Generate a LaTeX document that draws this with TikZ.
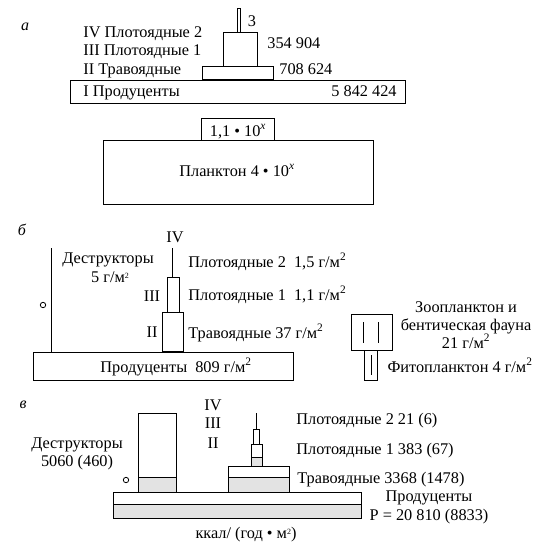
\documentclass[tikz,border=0pt]{standalone}
\usepackage{fontspec}
\setmainfont{Liberation Serif}
\newcommand{\sq}{\textsuperscript{2}}
\newcommand{\smsq}{\raisebox{0.5ex}{\fontsize{8}{8}\selectfont 2}}
\begin{document}
\begin{tikzpicture}[x=1pt,y=-1pt,line width=0.8pt,
  txt/.style={inner sep=0pt,text height=10pt,text depth=0pt,font=\fontsize{16.3}{18}\selectfont},
  lbl/.style={inner sep=0pt,font=\fontsize{16}{18}\selectfont\itshape},
  shade/.style={fill=gray!22},
  heavy/.style={line width=1.6pt}]
\useasboundingbox (0,0) rectangle (553,544);
% ---------- a ----------
\node[lbl] (la) at (25,27) {а};
\draw (237,8) rectangle (240,32);
\draw (223,32) rectangle (257,66);
\draw (202,66) rectangle (273,80);
\draw[heavy] (202,80) -- (273,80);
\draw (70,80) rectangle (405,103);
\node[txt,anchor=west] (a4) at (83,32) {IV Плотоядные 2};
\node[txt,anchor=west] (a3) at (83,50) {III Плотоядные 1};
\node[txt,anchor=west] (a2) at (83,69) {II Травоядные};
\node[txt,anchor=west] (a1) at (83,91) {I Продуценты};
\node[txt] (v4) at (252,21) {3};
\node[txt,anchor=west] (v3) at (267,43) {354 904};
\node[txt,anchor=west] (v2) at (279,69) {708 624};
\node[txt,anchor=east] (v1) at (397,91) {5 842 424};
\draw (201,118) rectangle (274,140);
\node[txt] (zp) at (238,131) {1,1 • 10\textsuperscript{\itshape x}};
\draw (103,140) rectangle (373,204);
\node[txt] (pl) at (237,171) {Планктон 4 • 10\textsuperscript{\itshape x}};
% ---------- b ----------
\node[lbl] (lb) at (22,230) {б};
\node[txt] (b4) at (175,237) {IV};
\draw (51,248) -- (51,352);
\draw (43,305) circle (2.7);
\node[txt] (bd1) at (108,258) {Деструкторы};
\node[txt] (bd2) at (110,277) {5 г/м\smsq};
\draw (172,248) -- (172,277);
\draw (167,277) rectangle (179,312);
\draw (162,312) rectangle (183,352);
\draw[heavy] (162,352) -- (183,352);
\node[txt] (b3) at (152,296) {III};
\node[txt] (b2) at (152,332) {II};
\draw (33,352) rectangle (293,380);
\node[txt] (bp) at (176,367) {Продуценты\ \ 809 г/м\sq};
\node[txt,anchor=west] (bc2) at (188,262) {Плотоядные 2\ \ 1,5 г/м\sq};
\node[txt,anchor=west] (bc1) at (188,295) {Плотоядные 1\ \ 1,1 г/м\sq};
\node[txt,anchor=west] (bh) at (188,333) {Травоядные 37 г/м\sq};
\draw (351,314) rectangle (392,350);
\draw (363,322) -- (363,343);
\draw (378,322) -- (378,343);
\draw (364,350) rectangle (377,380);
\draw (371,355) -- (371,375);
\node[txt] (z1) at (466,307) {Зоопланктон и};
\node[txt] (z2) at (466,325) {бентическая фауна};
\node[txt] (z3) at (466,343) {21 г/м\sq};
\node[txt] (ph) at (460,367) {Фитопланктон 4 г/м\sq};
% ---------- c ----------
\node[lbl] (lc) at (23,405) {в};
\fill[shade] (138,477) rectangle (176,492);
\draw (138,413) rectangle (176,492);
\draw (138,477) -- (176,477);
\node[txt] (c4) at (213,405) {IV};
\node[txt] (c3) at (213,423) {III};
\node[txt] (c2) at (213,443) {II};
\node[txt] (cd1) at (77,443) {Деструкторы};
\node[txt] (cd2) at (77,461) {5060 (460)};
\draw (126,480) circle (2.7);
\fill[shade] (113,504) rectangle (361,518);
\draw (113,492) rectangle (361,518);
\draw (113,504) -- (361,504);
\fill[shade] (228,477) rectangle (289,492);
\draw (228,466) rectangle (289,492);
\draw (228,477) -- (289,477);
\draw (256,413) -- (256,429);
\draw (253,429) rectangle (259,444);
\fill[shade] (251,457) rectangle (262,466);
\draw (251,444) rectangle (262,466);
\draw (251,457) -- (262,457);
\node[txt,anchor=west] (cc2) at (296,419) {Плотоядные 2 21 (6)};
\node[txt,anchor=west] (cc1) at (296,449) {Плотоядные 1 383 (67)};
\node[txt,anchor=west] (ch) at (297,478) {Травоядные 3368 (1478)};
\node[txt] (cp1) at (429,496) {Продуценты};
\node[txt] (cp2) at (429,515) {P = 20 810 (8833)};
\node[txt] (cu) at (246,533) {ккал/ (год • м\smsq)};
\end{tikzpicture}
\end{document}
